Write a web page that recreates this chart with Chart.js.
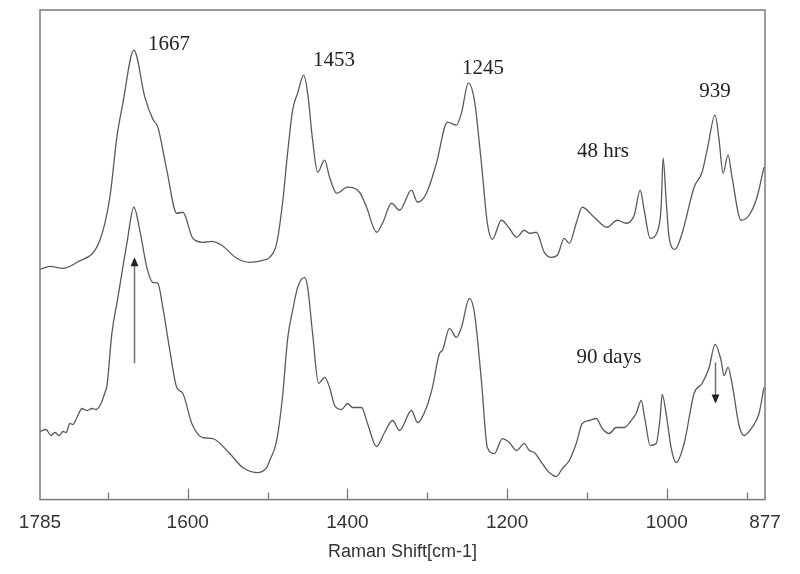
<!DOCTYPE html>
<html>
<head>
<meta charset="utf-8">
<script src="https://cdn.jsdelivr.net/npm/chart.js@4.4.1/dist/chart.umd.min.js"></script>
<style>
  html, body { margin: 0; padding: 0; background: #ffffff; }
  #wrap { width: 800px; height: 574px; }
</style>
</head>
<body>
<div id="wrap"><canvas id="c" width="800" height="574"></canvas></div>
<script>
// Raman shift (cm-1) and relative intensity (a.u.)
const shift48 = [1785,1772.5,1756.2,1738.7,1710,1697.5,1688.7,1681.2,1667.4,1653.7,1643.7,1637.4,1626.2,1613.7,1606.1,1593.6,1581.1,1569.9,1557.4,1538.6,1522.4,1506.1,1497.3,1488.6,1481.1,1474.8,1468.6,1462.3,1454.8,1449.8,1443.6,1437.3,1428.6,1422.3,1413.5,1399.8,1384.8,1376,1363.5,1356,1344.8,1334.7,1319.7,1312.2,1301,1288.5,1274.7,1263.5,1257.2,1248.5,1241,1232.2,1224.7,1218.5,1207.2,1197.2,1188.4,1178.4,1172.2,1163.4,1153.4,1144.6,1137.1,1128.4,1122.1,1113.4,1105.9,1090.9,1074.6,1062.1,1050.8,1040.8,1033.3,1028.3,1020.8,1012.1,1007.1,1004.6,1000.8,997.1,989.6,980.8,965.8,955.8,949.5,939.5,934.5,929.5,923.3,918.3,907,897,887,878.3];
const int48 = [48.8,49.4,49.0,50.2,54.6,63.2,75.2,82.0,92.6,83.2,78.8,77.2,68.6,60.0,60.2,55.0,54.2,54.4,53.6,51.0,50.2,50.6,51.2,54.0,62.2,72.2,80.6,84.0,87.6,84.0,74.6,68.2,70.6,67.2,64.0,65.2,64.2,61.2,56.2,58.0,62.0,60.6,64.6,62.2,64.0,70.0,78.2,77.6,80.0,86.0,82.6,70.0,58.0,54.8,58.6,57.0,55.2,56.6,56.0,56.2,52.2,51.2,51.6,55.0,54.0,58.0,61.2,59.2,57.2,58.6,58.0,59.6,64.6,60.6,55.0,56.2,61.2,71.0,62.6,55.2,52.8,56.0,65.2,68.2,72.6,79.6,74.6,68.0,71.6,67.2,58.6,59.6,63.2,69.2];

const shift90 = [1785,1777.5,1771.2,1766.2,1761.2,1756.2,1752.4,1747.4,1743.7,1738.7,1732.4,1726.1,1719.9,1714.9,1708.6,1703.6,1701.1,1695,1687.4,1676.2,1667.4,1660,1651.2,1643.7,1637.4,1631.2,1622.4,1613.7,1606.1,1594.9,1581.1,1568.6,1547.4,1531.1,1513.6,1501.1,1497.3,1488.6,1481.1,1474.8,1468.6,1462.3,1453.6,1449.8,1443.6,1436.1,1428.6,1422.3,1416,1407.3,1399.8,1393.5,1382.3,1374.8,1363.5,1353.5,1343.5,1334.7,1319.7,1312.2,1301,1293.5,1284.7,1281,1272.2,1263.5,1257.2,1247.2,1241,1232.2,1224.7,1215.9,1205.9,1197.2,1188.4,1178.4,1172.2,1165.9,1155.9,1147.1,1138.4,1130.9,1122.1,1113.4,1105.9,1097.1,1088.4,1080.9,1072.1,1063.4,1053.3,1044.6,1038.3,1032.1,1027.1,1020.8,1013.3,1008.3,1005.8,1000.8,994.6,988.3,978.3,965.8,955.8,947,939.5,932,928.3,923.3,918.3,909.5,903.3,893.3,884.5,878.3];
const int90 = [16.4,16.8,15.6,16.2,15.6,16.4,16.2,18.0,17.8,19.2,21.0,20.6,21.0,20.8,22.0,24.2,25.6,36.0,43.2,54.0,61.2,56.6,49.2,46.2,46.0,41.2,32.6,25.2,24.0,18.0,15.2,15.0,12.0,9.2,8.2,9.2,10.6,14.6,23.6,35.0,40.6,45.2,47.2,45.2,36.0,26.0,27.2,25.2,21.6,20.8,22.0,21.2,21.2,18.0,13.4,16.2,18.6,16.6,20.6,18.2,21.2,25.2,32.0,32.6,37.0,35.2,37.2,43.0,40.2,26.6,13.2,12.0,15.0,14.2,12.6,14.0,12.6,12.2,10.0,8.2,7.4,9.0,10.6,14.0,18.0,18.6,19.0,17.0,16.0,17.2,17.2,18.6,20.0,22.6,18.6,13.6,14.0,19.2,23.8,20.0,13.2,10.2,14.0,24.0,26.0,29.2,33.8,30.6,27.6,29.2,26.0,17.6,15.6,17.2,20.0,25.2];

const tickLabels = [1785, 1600, 1400, 1200, 1000, 877];
const majorTickMarks = [1600, 1400, 1200, 1000];
const minorTickMarks = [1700, 1500, 1300, 1100, 900];

const peakLabels = ['1667', '1453', '1245', '939'];
const peakLabelAt = [[1623.4, 93.8], [1416.8, 90.6], [1230.2, 89.0], [939.6, 84.4]];
const seriesLabels = ['48 hrs', '90 days'];
const seriesLabelAt = [[1079.9, 72.4], [1072.4, 31.2]];
// arrows: [shift, from intensity, to intensity]
const arrows = [[1667.3, 30.0, 51.2], [939.6, 30.2, 22.0]];

function pts(xs, ys) { return xs.map((x, i) => ({ x: x, y: ys[i] })); }

const boxPlugin = {
  id: 'boxPlugin',
  afterDraw(chart) {
    const ctx = chart.ctx, a = chart.chartArea;
    const xs = chart.scales.x, ys = chart.scales.y;
    ctx.save();
    ctx.strokeStyle = '#7a7a7a';
    ctx.lineWidth = 1.5;
    ctx.strokeRect(a.left, a.top, a.right - a.left, a.bottom - a.top);
    ctx.lineWidth = 1.3;
    majorTickMarks.forEach(v => {
      const px = Math.round(xs.getPixelForValue(v)) + 0.5;
      ctx.beginPath(); ctx.moveTo(px, a.bottom); ctx.lineTo(px, a.bottom - 11); ctx.stroke();
    });
    minorTickMarks.forEach(v => {
      const px = Math.round(xs.getPixelForValue(v)) + 0.5;
      ctx.beginPath(); ctx.moveTo(px, a.bottom); ctx.lineTo(px, a.bottom - 7); ctx.stroke();
    });
    // text annotations
    ctx.fillStyle = '#222222';
    ctx.font = '21px "Liberation Serif", "Times New Roman", serif';
    ctx.textAlign = 'center';
    ctx.textBaseline = 'middle';
    peakLabels.forEach((t, i) => {
      ctx.fillText(t, xs.getPixelForValue(peakLabelAt[i][0]), ys.getPixelForValue(peakLabelAt[i][1]));
    });
    seriesLabels.forEach((t, i) => {
      ctx.fillText(t, xs.getPixelForValue(seriesLabelAt[i][0]), ys.getPixelForValue(seriesLabelAt[i][1]));
    });
    // arrows
    ctx.strokeStyle = '#707070';
    ctx.fillStyle = '#222222';
    ctx.lineWidth = 1.5;
    arrows.forEach(ar => {
      const px = Math.round(xs.getPixelForValue(ar[0])) + 0.5;
      const y0 = ys.getPixelForValue(ar[1]);
      const y1 = ys.getPixelForValue(ar[2]);
      const dir = y1 < y0 ? -1 : 1;
      ctx.beginPath(); ctx.moveTo(px, y0); ctx.lineTo(px, y1 - dir * 8); ctx.stroke();
      ctx.beginPath();
      ctx.moveTo(px, y1);
      ctx.lineTo(px - 4, y1 - dir * 9);
      ctx.lineTo(px + 4, y1 - dir * 9);
      ctx.closePath(); ctx.fill();
    });
    ctx.restore();
  }
};

new Chart(document.getElementById('c'), {
  type: 'line',
  data: {
    datasets: [
      { label: '48 hrs', data: pts(shift48, int48), borderColor: '#5a5a5a', borderWidth: 1.3, pointRadius: 0, cubicInterpolationMode: 'monotone', fill: false },
      { label: '90 days', data: pts(shift90, int90), borderColor: '#5a5a5a', borderWidth: 1.3, pointRadius: 0, cubicInterpolationMode: 'monotone', fill: false }
    ]
  },
  options: {
    responsive: false,
    animation: false,
    events: [],
    layout: { padding: { left: 40, right: 35, top: 10, bottom: 11 } },
    plugins: { legend: { display: false }, tooltip: { enabled: false } },
    scales: {
      x: {
        type: 'linear',
        reverse: true,
        min: 877,
        max: 1785,
        afterBuildTicks: (scale) => { scale.ticks = tickLabels.map(v => ({ value: v })); },
        grid: { display: false, drawTicks: false },
        border: { display: false },
        ticks: {
          autoSkip: false, maxRotation: 0, padding: 12,
          color: '#333333',
          font: { family: '"Liberation Sans", Arial, sans-serif', size: 19 },
          callback: (v) => String(v)
        },
        title: {
          display: true, text: 'Raman Shift[cm-1]', color: '#333333',
          font: { family: '"Liberation Sans", Arial, sans-serif', size: 18 },
          padding: { top: -5, bottom: 0 }
        }
      },
      y: { display: false, min: 2.8, max: 100.6 }
    }
  },
  plugins: [boxPlugin]
});
</script>
</body>
</html>
